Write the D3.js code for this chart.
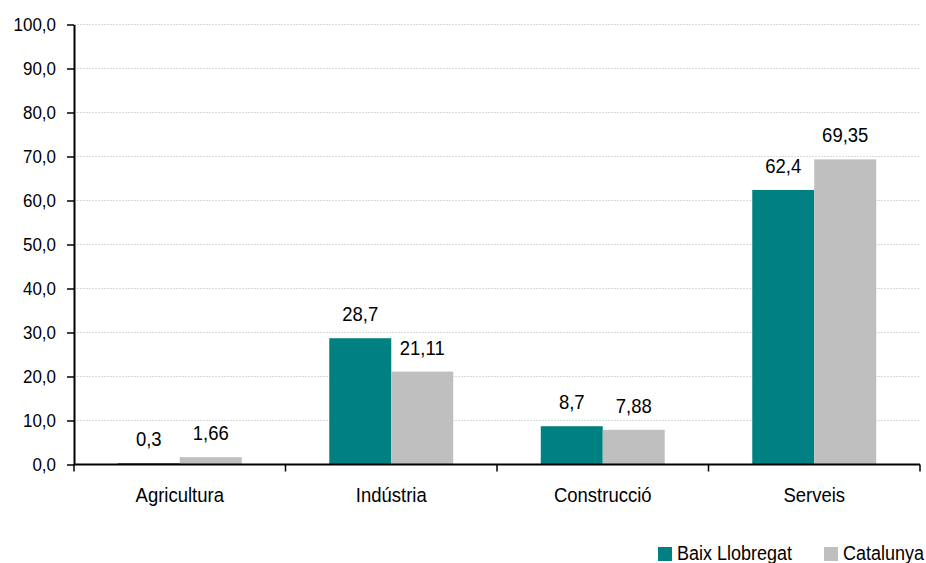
<!DOCTYPE html>
<html><head><meta charset="utf-8">
<script src="https://cdn.jsdelivr.net/npm/d3@7"></script>
<style>
body{margin:0;background:#fff;}
text{font-family:"Liberation Sans",Arial,sans-serif;fill:#000;}
</style></head>
<body><svg id="c" width="926" height="563"></svg>
<script>
const categories = ["Agricultura","Indústria","Construcció","Serveis"];
const seriesNames = ["Baix Llobregat","Catalunya"];
const baixLlobregat = [0.3, 28.7, 8.7, 62.4];
const catalunya = [1.66, 21.11, 7.88, 69.35];
const labelsBaix = ["0,3","28,7","8,7","62,4"];
const labelsCat = ["1,66","21,11","7,88","69,35"];
const yTicks = [0,10,20,30,40,50,60,70,80,90,100];
const colors = ["#008080","#bfbfbf"];

const svg = d3.select("#c");
const L = 74, R = 920, T = 24.5, B = 464.5;
const y = d3.scaleLinear().domain([0,100]).range([B,T]);
const x0 = d3.scaleBand().domain(categories).range([L,R]).padding(0);
const x1 = d3.scaleBand().domain(seriesNames).range([0,x0.bandwidth()]).paddingInner(0).paddingOuter(0.706);

// grid
svg.append("g").selectAll("line").data(yTicks.filter(d=>d>0)).join("line")
  .attr("x1",L).attr("x2",R).attr("y1",d=>y(d)).attr("y2",d=>y(d))
  .attr("stroke","#dadada").attr("stroke-width",1).attr("stroke-dasharray","2,1");

const data = categories.map((c,i)=>({cat:c, vals:[
  {s:seriesNames[0], v:baixLlobregat[i], l:labelsBaix[i]},
  {s:seriesNames[1], v:catalunya[i], l:labelsCat[i]}]}));

const g = svg.append("g").selectAll("g").data(data).join("g")
  .attr("transform",d=>`translate(${x0(d.cat)},0)`);
g.selectAll("rect").data(d=>d.vals).join("rect")
  .attr("x",d=>x1(d.s)).attr("width",x1.bandwidth())
  .attr("y",d=>y(d.v)).attr("height",d=>B-y(d.v))
  .attr("fill",(d,i)=>colors[i]);
g.selectAll("text").data(d=>d.vals).join("text")
  .attr("x",d=>x1(d.s)+x1.bandwidth()/2).attr("y",d=>y(d.v)-17)
  .attr("text-anchor","middle").attr("font-size",18.5).text(d=>d.l);

// y axis
const yAxis = d3.axisLeft(y).tickValues(yTicks).tickSize(7).tickSizeOuter(0)
  .tickFormat(d=>d3.format(".1f")(d).replace(".",","));
const ya = svg.append("g").attr("transform",`translate(${L},0)`).call(yAxis);
ya.select(".domain").attr("stroke","#000").attr("stroke-width",2);
ya.selectAll(".tick line").attr("stroke","#000").attr("stroke-width",1.5);
ya.selectAll(".tick text").attr("font-size",17).attr("font-family","Liberation Sans, Arial, sans-serif")
  .attr("fill","#000").attr("x",-18).attr("y",6).attr("dy",null);

// x axis
const xa = svg.append("g").attr("transform",`translate(0,${B})`);
xa.append("line").attr("x1",L).attr("x2",R).attr("stroke","#000").attr("stroke-width",2);
const bounds = categories.map(c=>x0(c)).concat([R]);
xa.selectAll("line.t").data(bounds).join("line").attr("class","t")
  .attr("x1",d=>d).attr("x2",d=>d).attr("y1",0).attr("y2",7).attr("stroke","#000").attr("stroke-width",1.5);
xa.selectAll("text").data(categories).join("text")
  .attr("x",d=>x0(d)+x0.bandwidth()/2).attr("y",37).attr("text-anchor","middle")
  .attr("font-size",18.5).text(d=>d);

// legend
const leg = svg.append("g");
const legX = [658, 824];
seriesNames.forEach((s,i)=>{
  leg.append("rect").attr("x",legX[i]).attr("y",547).attr("width",14).attr("height",14).attr("fill",colors[i]);
  leg.append("text").attr("x",legX[i]+19).attr("y",560).attr("font-size",18).text(s);
});

// vertical stretch of text to match the reference glyph shape
svg.selectAll("text").each(function(){
  const t = d3.select(this);
  const tx = +t.attr("x")||0, ty = +t.attr("y")||0;
  t.attr("x",0).attr("y",0).attr("transform",`translate(${tx},${ty}) scale(1,1.12)`);
});
</script></body></html>
